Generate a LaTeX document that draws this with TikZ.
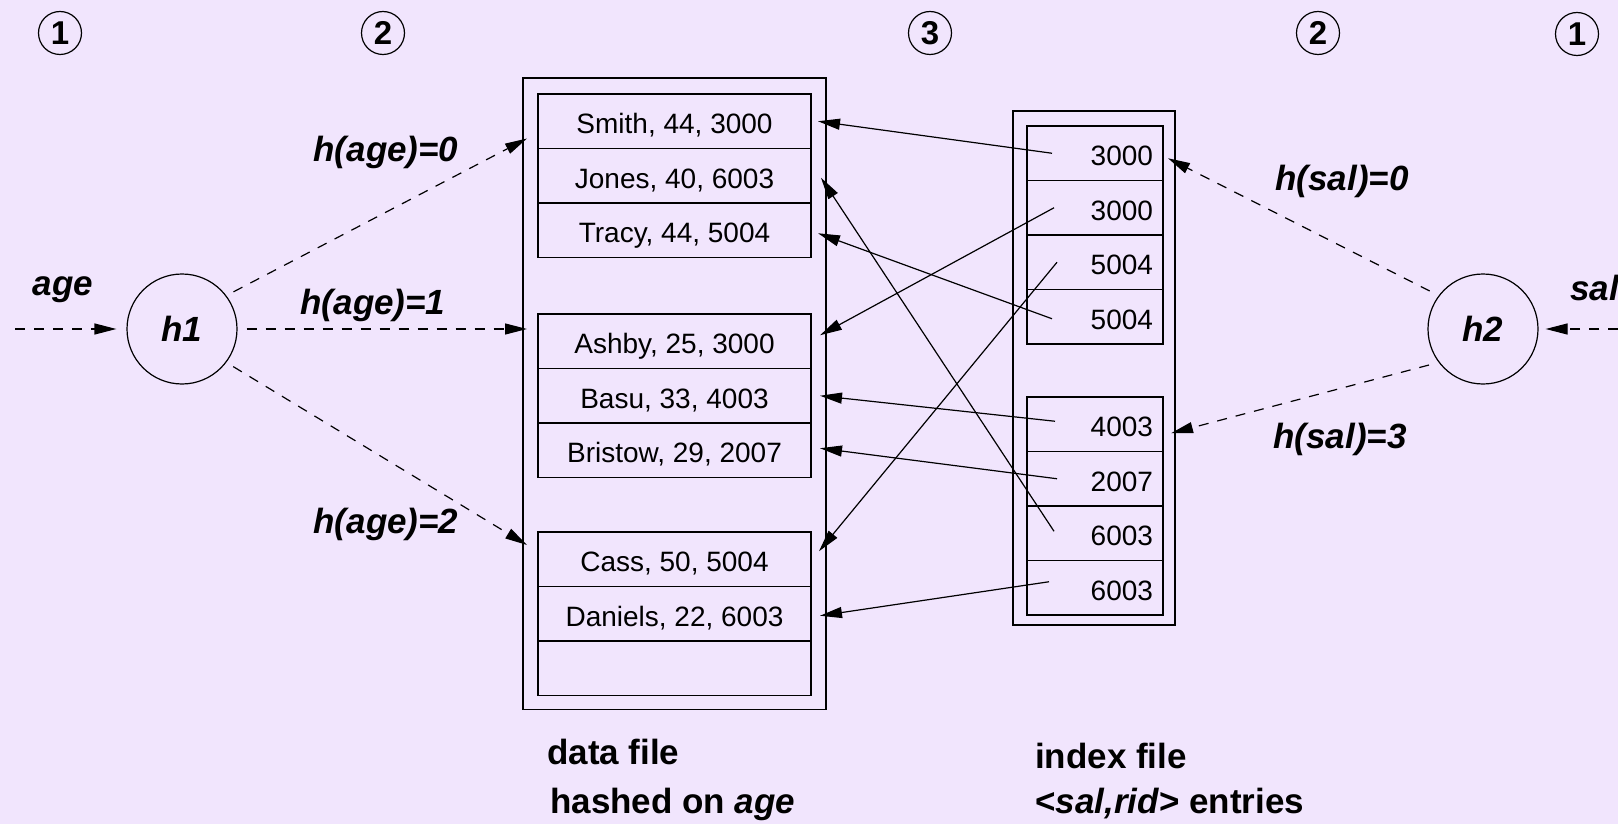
\documentclass[tikz,border=0pt]{standalone}
\usepackage{fontspec}
\setmainfont{Liberation Sans}
\usetikzlibrary{arrows.meta, positioning}
\definecolor{slidebg}{RGB}{241,229,253}

\begin{document}
\begin{tikzpicture}[
    x=1pt, y=1pt,
    >={Triangle[length=22pt, width=11pt]},
    rec/.style={draw, line width=1.2pt, outer sep=0pt, minimum width=273pt, minimum height=54.5pt, text height=25pt, text depth=0pt, font=\fontsize{28}{32}\selectfont},
    idx/.style={draw, line width=1.2pt, outer sep=0pt, text width=116pt, inner xsep=10pt, minimum height=54.5pt, text height=25pt, text depth=0pt, align=right, font=\fontsize{28}{32}\selectfont},
    hashfn/.style={draw, circle, line width=1.2pt, minimum size=110pt, font=\fontsize{35}{40}\selectfont\bfseries\itshape},
    num/.style={draw, circle, line width=1.2pt, minimum size=43pt, inner sep=0pt, font=\fontsize{33}{36}\selectfont\bfseries},
    lbl/.style={font=\fontsize{35}{40}\selectfont\bfseries\itshape},
    filelbl/.style={anchor=west, inner sep=0pt, font=\fontsize{35}{40}\selectfont\bfseries},
    ptr/.style={->, line width=1.2pt},
    hasharrow/.style={->, line width=1.2pt, dash pattern=on 10pt off 9pt}
]
\useasboundingbox (0,0) rectangle (1618,-824);
\fill[slidebg] (0,0) rectangle (1618,-824);

% Schritte
\node[num] (n1l) at (60,-33) {1};
\node[num] (n2l) at (383,-33) {2};
\node[num] (n3) at (930,-33) {3};
\node[num] (n2r) at (1318,-33) {2};
\node[num] (n1r) at (1577,-34) {1};

% Datei, gehasht nach age
\node[rec, anchor=north west] (d00) at (538,-94) {Smith, 44, 3000};
\node[rec, below=0pt of d00] (d01) {Jones, 40, 6003};
\node[rec, below=0pt of d01] (d02) {Tracy, 44, 5004};
\node[rec, anchor=north west] (d10) at (538,-314) {Ashby, 25, 3000};
\node[rec, below=0pt of d10] (d11) {Basu, 33, 4003};
\node[rec, below=0pt of d11] (d12) {Bristow, 29, 2007};
\node[rec, anchor=north west] (d20) at (538,-532) {Cass, 50, 5004};
\node[rec, below=0pt of d20] (d21) {Daniels, 22, 6003};
\node[rec, below=0pt of d21] (d22) {};
\draw[line width=1.2pt] ([shift={(-15pt,16pt)}]d00.north west) rectangle ([shift={(15pt,-14pt)}]d22.south east);

% Indexdatei
\node[idx, anchor=north west] (i00) at (1027,-126) {3000};
\node[idx, below=0pt of i00] (i01) {3000};
\node[idx, below=0pt of i01] (i02) {5004};
\node[idx, below=0pt of i02] (i03) {5004};
\node[idx, anchor=north west] (i30) at (1027,-397) {4003};
\node[idx, below=0pt of i30] (i31) {2007};
\node[idx, below=0pt of i31] (i32) {6003};
\node[idx, below=0pt of i32] (i33) {6003};
\draw[line width=1.2pt] ([shift={(-14pt,15pt)}]i00.north west) rectangle ([shift={(12pt,-10pt)}]i33.south east);

% Hashfunktionen
\node[hashfn] (h1) at (182,-329) {h1};
\node[hashfn] (h2) at (1483,-329) {h2};
\coordinate (agein) at (15,-329);
\coordinate (salin) at (1618,-329);
\node[lbl] (age) at (63,-290) {age};
\node[lbl, anchor=west, inner sep=0pt] (sal) at (1570,-288) {sal};
\draw[hasharrow, shorten >=10pt] (agein) -- (h1.west);
\draw[hasharrow, shorten >=7pt] (salin) -- (h2.east);

% h1 -> Buckets
\draw[hasharrow, shorten <=8pt] (h1.37) -- ([shift={(-11pt,10pt)}]d00.south west);
\draw[hasharrow, shorten <=9pt] (h1.east) -- ([shift={(-11pt,-15pt)}]d10.north west);
\draw[hasharrow, shorten <=8pt] (h1.-37) -- ([shift={(-11pt,-13pt)}]d20.north west);
\node[lbl] (hage0) at (386,-152) {h(age)=0};
\node[lbl] (hage1) at (373,-305) {h(age)=1};
\node[lbl] (hage2) at (386,-524) {h(age)=2};

% h2 -> Index-Buckets
\draw[hasharrow, shorten <=10pt] (h2.143) -- ([shift={(5pt,-5pt)}]i00.east);
\draw[hasharrow, shorten <=10pt] (h2.217) -- ([shift={(8pt,-9pt)}]i30.east);
\node[lbl] (hsal0) at (1342,-181) {h(sal)=0};
\node[lbl] (hsal3) at (1340,-439) {h(sal)=3};

% rids
\draw[ptr] ([xshift=25pt]i00.west) -- ([xshift=7pt]d00.east);
\draw[ptr] ([xshift=27pt]i01.west) -- ([shift={(9pt,6pt)}]d10.east);
\draw[ptr] ([xshift=30pt]i02.west) -- ([shift={(8pt,8pt)}]d20.east);
\draw[ptr] ([shift={(25pt,-2pt)}]i03.west) -- ([shift={(7pt,-3pt)}]d02.east);
\draw[ptr] ([shift={(28pt,3pt)}]i30.west) -- ([xshift=9pt]d11.east);
\draw[ptr] ([xshift=30pt]i31.west) -- ([shift={(9pt,2pt)}]d12.east);
\draw[ptr] ([shift={(27pt,2pt)}]i32.west) -- ([shift={(10pt,-2pt)}]d01.east);
\draw[ptr] ([shift={(22pt,6pt)}]i33.west) -- ([shift={(9pt,-2pt)}]d21.east);

% Beschriftung
\node[filelbl] (dlbl) at (547,-752) {data file};
\node[filelbl] (dlbl2) at (550,-804) {hashed on \textit{age}};
\node[filelbl] (ilbl) at (1035,-756) {index file};
\node[filelbl] (ilbl2) at (1035,-804) {<\textit{sal,rid}> entries};
\end{tikzpicture}
\end{document}
